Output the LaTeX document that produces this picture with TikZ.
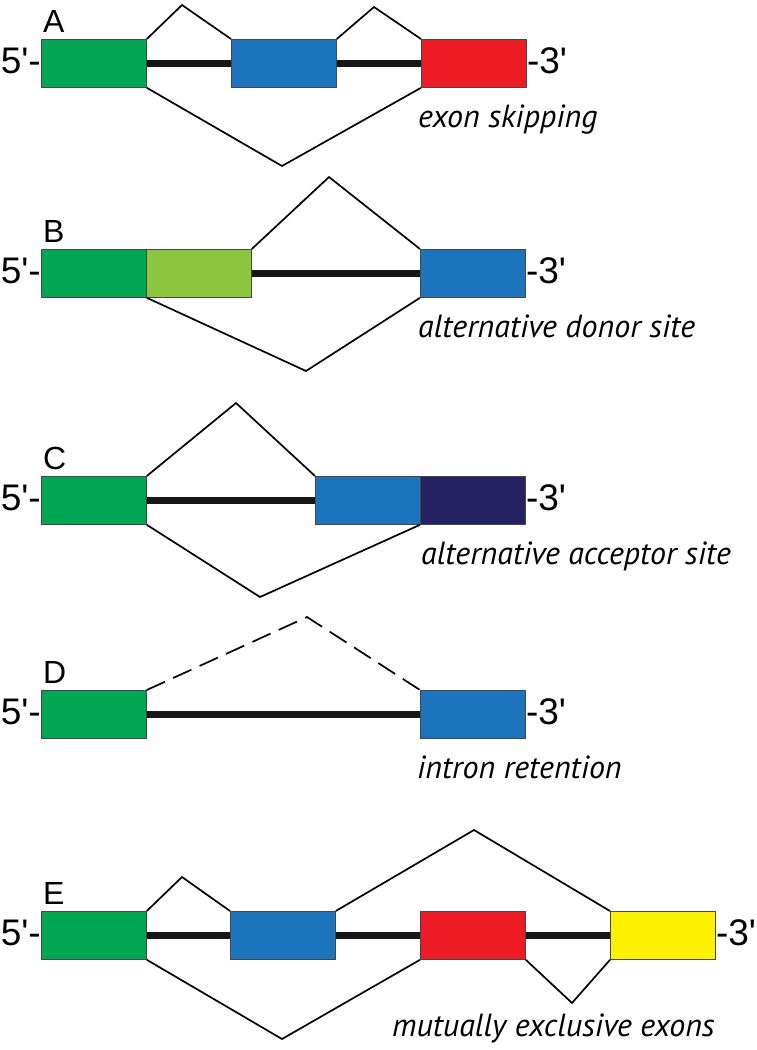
\documentclass[tikz,border=0pt]{standalone}
\usepackage{fontspec}
\setmainfont{Liberation Sans}[Ligatures=TeXOff]
\newfontfamily\capfont{PT Sans}

\definecolor{exgreen}{RGB}{0,166,81}
\definecolor{exlime}{RGB}{141,198,63}
\definecolor{exblue}{RGB}{28,117,188}
\definecolor{exred}{RGB}{237,28,36}
\definecolor{exnavy}{RGB}{38,34,98}
\definecolor{exyellow}{RGB}{255,242,0}
\definecolor{rim}{RGB}{70,70,70}
\definecolor{ink}{RGB}{25,22,23}

\tikzset{
  exon/.style={draw=rim, line width=0.8pt, minimum width=105pt, minimum height=48pt,
    inner sep=0pt, anchor=north west},
  intron/.style={line width=6.5pt, ink},
  splice/.style={line width=1.7pt, black},
  fiveend/.style={font=\fontsize{37}{39}\selectfont, inner sep=0pt, anchor=base east},
  threeend/.style={font=\fontsize{37}{39}\selectfont, inner sep=0pt, anchor=base west},
  panel/.style={font=\fontsize{32}{34}\selectfont, inner sep=0pt, anchor=base west},
  caption/.style={font=\capfont\itshape\fontsize{32}{34}\selectfont, inner sep=0pt, anchor=base west}
}

\begin{document}
\begin{tikzpicture}[x=1pt,y=-1pt]
  \useasboundingbox (0,0) rectangle (756,1050);

  % A: exon skipping
  \node[exon, fill=exgreen] (a1) at (41,39) {};
  \node[exon, fill=exblue] (a2) at (231,39) {};
  \node[exon, fill=exred] (a3) at (421,39) {};
  \draw[intron] (a1.east) -- (a2.west);
  \draw[intron] (a2.east) -- (a3.west);
  \coordinate (ap1) at (182,5);
  \coordinate (ap2) at (374,7);
  \coordinate (av) at (282,166);
  \draw[splice] (a1.north east) -- (ap1) -- (a2.north west);
  \draw[splice] (a2.north east) -- (ap2) -- (a3.north west);
  \draw[splice] (a1.south east) -- (av) -- (a3.south west);
  \node[panel] (la) at ([xshift=2pt,yshift=7pt]a1.north west) {A};
  \node[fiveend] (a5) at ([yshift=-10pt]a1.west) {5'-};
  \node[threeend] (a3e) at ([yshift=-10pt]a3.east) {-3'};
  \node[caption] (capa) at (418,127) {exon skipping};

  % B: alternative donor site
  \node[exon, fill=exgreen] (b1) at (41,249) {};
  \node[exon, fill=exlime] (b2) at (146,249) {};
  \node[exon, fill=exblue] (b3) at (420,249) {};
  \draw[intron] (b2.east) -- (b3.west);
  \coordinate (bp) at (329,177);
  \coordinate (bv) at (306,371);
  \draw[splice] (b2.north east) -- (bp) -- (b3.north west);
  \draw[splice] (b1.south east) -- (bv) -- (b3.south west);
  \node[panel] (lb) at ([xshift=2pt,yshift=7pt]b1.north west) {B};
  \node[fiveend] (b5) at ([yshift=-10pt]b1.west) {5'-};
  \node[threeend] (b3e) at ([yshift=-10pt]b3.east) {-3'};
  \node[caption] (capb) at (418,337) {alternative donor site};

  % C: alternative acceptor site
  \node[exon, fill=exgreen] (c1) at (41,476) {};
  \node[exon, fill=exblue] (c2) at (315,476) {};
  \node[exon, fill=exnavy] (c3) at (420,476) {};
  \draw[intron] (c1.east) -- (c2.west);
  \coordinate (cp) at (236,403);
  \coordinate (cv) at (260,597);
  \draw[splice] (c1.north east) -- (cp) -- (c2.north west);
  \draw[splice] (c1.south east) -- (cv) -- (c3.south west);
  \node[panel] (lc) at ([xshift=2pt,yshift=7pt]c1.north west) {C};
  \node[fiveend] (c5) at ([yshift=-10pt]c1.west) {5'-};
  \node[threeend] (c3e) at ([yshift=-10pt]c3.east) {-3'};
  \node[caption] (capc) at (421,564) {alternative acceptor site};

  % D: intron retention
  \node[exon, fill=exgreen] (d1) at (41,690) {};
  \node[exon, fill=exblue] (d2) at (420,690) {};
  \draw[intron] (d1.east) -- (d2.west);
  \coordinate (dp) at (307,617);
  \draw[splice, dash pattern=on 20pt off 9pt] (d1.north east) -- (dp) -- (d2.north west);
  \node[panel] (ld) at ([xshift=2pt,yshift=7pt]d1.north west) {D};
  \node[fiveend] (d5) at ([yshift=-10pt]d1.west) {5'-};
  \node[threeend] (d3e) at ([yshift=-10pt]d2.east) {-3'};
  \node[caption] (capd) at (417,778) {intron retention};

  % E: mutually exclusive exons
  \node[exon, fill=exgreen] (e1) at (41,911) {};
  \node[exon, fill=exblue] (e2) at (230,911) {};
  \node[exon, fill=exred] (e3) at (420,911) {};
  \node[exon, fill=exyellow] (e4) at (610,911) {};
  \draw[intron] (e1.east) -- (e2.west);
  \draw[intron] (e2.east) -- (e3.west);
  \draw[intron] (e3.east) -- (e4.west);
  \coordinate (ep1) at (182,877);
  \coordinate (ep2) at (474,830);
  \coordinate (ev1) at (282,1039);
  \coordinate (ev2) at (572,1003);
  \draw[splice] (e1.north east) -- (ep1) -- (e2.north west);
  \draw[splice] (e2.north east) -- (ep2) -- (e4.north west);
  \draw[splice] (e1.south east) -- (ev1) -- (e3.south west);
  \draw[splice] (e3.south east) -- (ev2) -- (e4.south west);
  \node[panel] (le) at ([xshift=2pt,yshift=7pt]e1.north west) {E};
  \node[fiveend] (e5) at ([yshift=-10pt]e1.west) {5'-};
  \node[threeend] (e3e) at ([yshift=-10pt]e4.east) {-3'};
  \node[caption] (cape) at (392,1036) {mutually exclusive exons};
\end{tikzpicture}
\end{document}
